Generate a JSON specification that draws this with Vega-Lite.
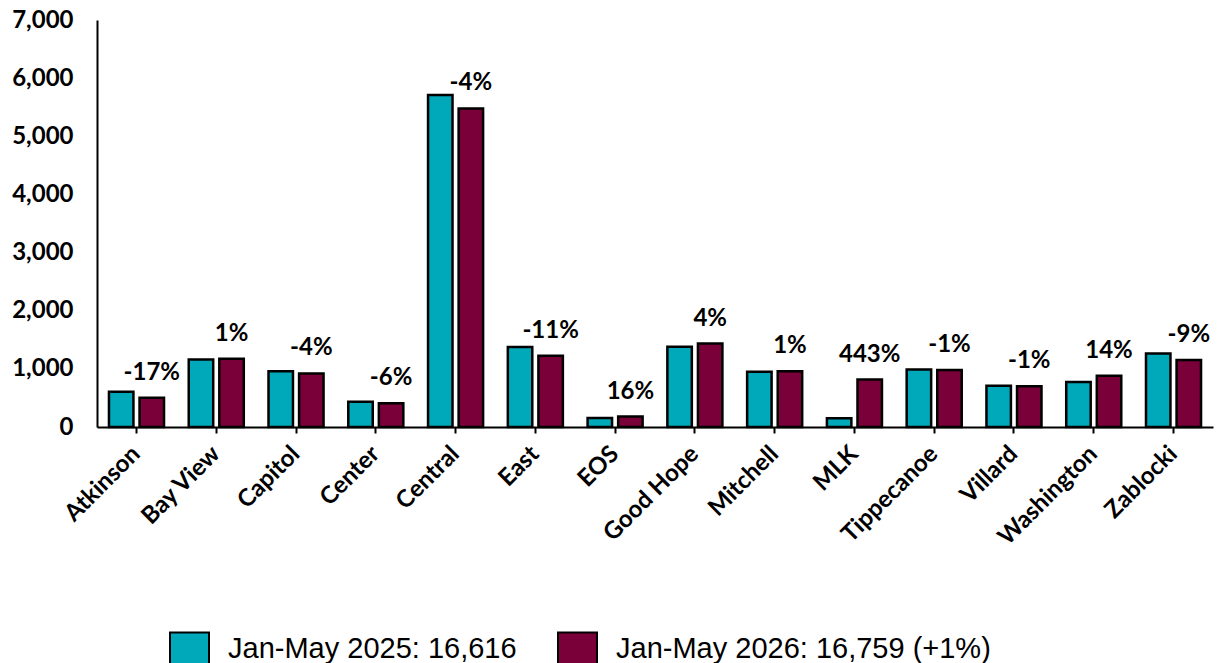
{
  "$schema": "https://vega.github.io/schema/vega-lite/v6.json",
  "width": 1116,
  "height": 407,
  "autosize": {"type": "none"},
  "padding": {"left": 97, "top": 20, "right": 4, "bottom": 236},
  "background": "white",
  "config": {"view": {"stroke": null}},
  "data": {"values": [
    {"school": "Atkinson", "series": "Jan-May 2025: 16,616", "value": 605, "pct": ""},
    {"school": "Atkinson", "series": "Jan-May 2026: 16,759 (+1%)", "value": 503, "pct": "-17%"},
    {"school": "Bay View", "series": "Jan-May 2025: 16,616", "value": 1160, "pct": ""},
    {"school": "Bay View", "series": "Jan-May 2026: 16,759 (+1%)", "value": 1172, "pct": "1%"},
    {"school": "Capitol", "series": "Jan-May 2025: 16,616", "value": 960, "pct": ""},
    {"school": "Capitol", "series": "Jan-May 2026: 16,759 (+1%)", "value": 922, "pct": "-4%"},
    {"school": "Center", "series": "Jan-May 2025: 16,616", "value": 435, "pct": ""},
    {"school": "Center", "series": "Jan-May 2026: 16,759 (+1%)", "value": 409, "pct": "-6%"},
    {"school": "Central", "series": "Jan-May 2025: 16,616", "value": 5710, "pct": ""},
    {"school": "Central", "series": "Jan-May 2026: 16,759 (+1%)", "value": 5480, "pct": "-4%"},
    {"school": "East", "series": "Jan-May 2025: 16,616", "value": 1375, "pct": ""},
    {"school": "East", "series": "Jan-May 2026: 16,759 (+1%)", "value": 1224, "pct": "-11%"},
    {"school": "EOS", "series": "Jan-May 2025: 16,616", "value": 155, "pct": ""},
    {"school": "EOS", "series": "Jan-May 2026: 16,759 (+1%)", "value": 180, "pct": "16%"},
    {"school": "Good Hope", "series": "Jan-May 2025: 16,616", "value": 1380, "pct": ""},
    {"school": "Good Hope", "series": "Jan-May 2026: 16,759 (+1%)", "value": 1435, "pct": "4%"},
    {"school": "Mitchell", "series": "Jan-May 2025: 16,616", "value": 950, "pct": ""},
    {"school": "Mitchell", "series": "Jan-May 2026: 16,759 (+1%)", "value": 960, "pct": "1%"},
    {"school": "MLK", "series": "Jan-May 2025: 16,616", "value": 150, "pct": ""},
    {"school": "MLK", "series": "Jan-May 2026: 16,759 (+1%)", "value": 815, "pct": "443%"},
    {"school": "Tippecanoe", "series": "Jan-May 2025: 16,616", "value": 990, "pct": ""},
    {"school": "Tippecanoe", "series": "Jan-May 2026: 16,759 (+1%)", "value": 980, "pct": "-1%"},
    {"school": "Villard", "series": "Jan-May 2025: 16,616", "value": 708, "pct": ""},
    {"school": "Villard", "series": "Jan-May 2026: 16,759 (+1%)", "value": 701, "pct": "-1%"},
    {"school": "Washington", "series": "Jan-May 2025: 16,616", "value": 772, "pct": ""},
    {"school": "Washington", "series": "Jan-May 2026: 16,759 (+1%)", "value": 880, "pct": "14%"},
    {"school": "Zablocki", "series": "Jan-May 2025: 16,616", "value": 1265, "pct": ""},
    {"school": "Zablocki", "series": "Jan-May 2026: 16,759 (+1%)", "value": 1151, "pct": "-9%"}
  ]},
  "encoding": {
    "x": {
      "field": "school", "type": "nominal", "sort": null,
      "scale": {"paddingInner": 0.31, "paddingOuter": 0.15},
      "axis": {
        "title": null, "labelAngle": -45, "labelAlign": "right", "labelBaseline": "middle",
        "labelFont": "Lato", "labelFontWeight": "bold", "labelFontSize": 24, "labelColor": "black",
        "labelPadding": 17, "domainColor": "black", "domainWidth": 2,
        "tickColor": "black", "tickWidth": 2, "tickSize": 6
      }
    },
    "xOffset": {
      "field": "series", "type": "nominal",
      "scale": {"domain": ["Jan-May 2025: 16,616", "Jan-May 2026: 16,759 (+1%)"], "paddingInner": 0.2, "paddingOuter": 0}
    },
    "y": {
      "field": "value", "type": "quantitative",
      "scale": {"domain": [0, 7000], "nice": false},
      "axis": {
        "title": null, "values": [0, 1000, 2000, 3000, 4000, 5000, 6000, 7000], "format": ",d",
        "grid": false, "ticks": false, "tickSize": 0, "labelPadding": 24,
        "labelFont": "Lato", "labelFontWeight": "bold", "labelFontSize": 24, "labelColor": "black",
        "domainColor": "black", "domainWidth": 2
      }
    }
  },
  "layer": [
    {
      "mark": {"type": "bar", "stroke": "black", "strokeWidth": 2.5},
      "encoding": {
        "color": {
          "field": "series", "type": "nominal",
          "scale": {"domain": ["Jan-May 2025: 16,616", "Jan-May 2026: 16,759 (+1%)"], "range": ["#00A9B9", "#7A0039"]},
          "legend": {
            "title": null, "orient": "none", "direction": "horizontal",
            "legendX": 72, "legendY": 608,
            "symbolType": "M-1,-0.85L1,-0.85L1,0.85L-1,0.85Z", "symbolSize": 1521,
            "symbolStrokeColor": "black", "symbolStrokeWidth": 2, "symbolOpacity": 1,
            "labelFont": "Liberation Sans", "labelFontSize": 29, "labelColor": "black",
            "labelOffset": 18, "columnPadding": 37, "labelLimit": 600
          }
        }
      }
    },
    {
      "transform": [{"filter": "datum.pct != ''"}],
      "mark": {"type": "text", "font": "Lato", "fontWeight": "bold", "fontSize": 24, "color": "black", "baseline": "middle", "dy": -25},
      "encoding": {"text": {"field": "pct"}}
    }
  ]
}
